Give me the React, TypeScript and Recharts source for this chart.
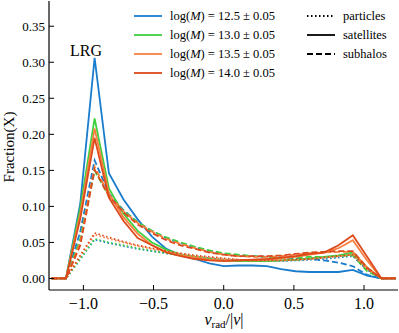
import React from 'react'
import { LineChart, Line, XAxis, YAxis } from 'recharts'

// bin centres of v_rad/|v|
const vrad = [
  -1.226, -1.124, -1.022, -0.92, -0.818, -0.715, -0.613, -0.511, -0.409, -0.307, -0.204, -0.102, 0.0,
  0.102, 0.204, 0.307, 0.409, 0.511, 0.613, 0.715, 0.818, 0.92, 1.022, 1.124, 1.226,
]

const massLabels = ['12.5', '13.0', '13.5', '14.0']
const massColors = ['#1a7ccc', '#3fcf3f', '#f97f3f', '#dc4a1c']

// satellites (solid)
const sat125 = [0, 0, 0.104, 0.306, 0.146, 0.11, 0.082, 0.058, 0.041, 0.032, 0.027, 0.021, 0.017, 0.018, 0.018, 0.017, 0.013, 0.01, 0.009, 0.009, 0.009, 0.012, 0.004, 0, 0]
const sat130 = [0, 0, 0.098, 0.222, 0.125, 0.09, 0.066, 0.05, 0.04, 0.033, 0.03, 0.027, 0.025, 0.024, 0.024, 0.024, 0.025, 0.026, 0.028, 0.03, 0.032, 0.036, 0.015, 0, 0]
const sat135 = [0, 0, 0.09, 0.208, 0.118, 0.085, 0.062, 0.046, 0.037, 0.032, 0.029, 0.026, 0.025, 0.025, 0.025, 0.026, 0.028, 0.03, 0.033, 0.036, 0.042, 0.053, 0.025, 0, 0]
const sat140 = [0, 0, 0.083, 0.195, 0.112, 0.08, 0.056, 0.046, 0.036, 0.031, 0.027, 0.025, 0.024, 0.025, 0.026, 0.027, 0.029, 0.031, 0.034, 0.036, 0.046, 0.06, 0.03, 0, 0]

// subhalos (dashed)
const sub125 = [0, 0, 0.065, 0.164, 0.118, 0.095, 0.078, 0.066, 0.056, 0.049, 0.043, 0.038, 0.034, 0.032, 0.031, 0.03, 0.029, 0.028, 0.027, 0.025, 0.022, 0.017, 0.005, 0, 0]
const sub130 = [0, 0, 0.055, 0.15, 0.114, 0.094, 0.078, 0.066, 0.057, 0.05, 0.044, 0.039, 0.035, 0.033, 0.031, 0.03, 0.029, 0.029, 0.03, 0.03, 0.031, 0.032, 0.01, 0, 0]
const sub135 = [0, 0, 0.05, 0.155, 0.116, 0.093, 0.077, 0.065, 0.055, 0.048, 0.042, 0.037, 0.033, 0.031, 0.03, 0.03, 0.031, 0.033, 0.035, 0.036, 0.037, 0.037, 0.015, 0, 0]
const sub140 = [0, 0, 0.046, 0.151, 0.114, 0.092, 0.075, 0.063, 0.053, 0.046, 0.041, 0.036, 0.033, 0.031, 0.031, 0.031, 0.032, 0.034, 0.036, 0.037, 0.038, 0.038, 0.015, 0, 0]

// particles (dotted)
const par125 = [0, 0, 0.027, 0.054, 0.049, 0.045, 0.041, 0.038, 0.035, 0.032, 0.03, 0.028, 0.026, 0.025, 0.024, 0.024, 0.024, 0.025, 0.026, 0.027, 0.029, 0.031, 0.012, 0, 0]
const par130 = [0, 0, 0.027, 0.055, 0.05, 0.046, 0.042, 0.038, 0.035, 0.032, 0.03, 0.028, 0.026, 0.025, 0.024, 0.024, 0.025, 0.026, 0.027, 0.029, 0.031, 0.033, 0.013, 0, 0]
const par135 = [0, 0, 0.031, 0.061, 0.055, 0.05, 0.045, 0.041, 0.037, 0.034, 0.031, 0.029, 0.027, 0.026, 0.025, 0.025, 0.025, 0.026, 0.027, 0.029, 0.031, 0.033, 0.013, 0, 0]
const par140 = [0, 0, 0.032, 0.063, 0.057, 0.051, 0.046, 0.042, 0.038, 0.035, 0.032, 0.03, 0.028, 0.026, 0.025, 0.025, 0.025, 0.026, 0.027, 0.029, 0.031, 0.033, 0.013, 0, 0]

const xTicks = [-1, -0.5, 0, 0.5, 1]
const yTicks = [0, 0.05, 0.1, 0.15, 0.2, 0.25, 0.3, 0.35]

const satellites = [sat125, sat130, sat135, sat140]
const subhalos = [sub125, sub130, sub135, sub140]
const particles = [par125, par130, par135, par140]

const data = vrad.map((x, i) => {
  const row: Record<string, number> = { x }
  massLabels.forEach((_, m) => {
    row[`par${m}`] = particles[m][i]
    row[`sat${m}`] = satellites[m][i]
    row[`sub${m}`] = subhalos[m][i]
  })
  return row
})

const serif = 'Liberation Serif'
const fmtX = (v: number) => v.toFixed(1).replace('-', '\u2212')
const fmtY = (v: number) => v.toFixed(2)

const styles = [
  { key: 'par', dash: '1.5 2.5', label: 'particles' },
  { key: 'sat', dash: undefined, label: 'satellites' },
  { key: 'sub', dash: '6 3', label: 'subhalos' },
]

export default function App() {
  return (
    <div style={{ position: 'absolute', left: 0, top: 0, width: 399, height: 333, background: '#fff', fontFamily: serif }}>
      <LineChart width={399} height={333} data={data} margin={{ top: 1, right: 1, left: 0, bottom: 0 }} style={{ fontFamily: serif }}>
        <XAxis
          dataKey="x"
          type="number"
          domain={[-1.245, 1.242]}
          ticks={xTicks}
          tickFormatter={fmtX}
          allowDataOverflow
          height={43}
          tickSize={-5}
          tickMargin={13}
          tick={{ fontSize: 16, fill: '#000', fontFamily: serif }}
          axisLine={{ stroke: '#000', strokeWidth: 1.2 }}
          tickLine={{ stroke: '#000', strokeWidth: 1 }}
        />
        <XAxis
          xAxisId="top"
          orientation="top"
          dataKey="x"
          type="number"
          domain={[-1.245, 1.242]}
          ticks={xTicks}
          allowDataOverflow
          height={0}
          tickSize={-5}
          tick={false}
          axisLine={{ stroke: '#000', strokeWidth: 1.2 }}
          tickLine={{ stroke: '#000', strokeWidth: 1 }}
        />
        <YAxis
          type="number"
          domain={[-0.016, 0.385]}
          ticks={yTicks}
          tickFormatter={fmtY}
          allowDataOverflow
          width={49}
          tickSize={-5}
          tickMargin={9}
          tick={{ fontSize: 13, fill: '#000', fontFamily: serif }}
          axisLine={{ stroke: '#000', strokeWidth: 1.2 }}
          tickLine={{ stroke: '#000', strokeWidth: 1 }}
        />
        <YAxis
          yAxisId="right"
          orientation="right"
          type="number"
          domain={[-0.016, 0.385]}
          ticks={yTicks}
          allowDataOverflow
          width={0}
          tickSize={-5}
          tick={false}
          axisLine={{ stroke: '#000', strokeWidth: 1.2 }}
          tickLine={{ stroke: '#000', strokeWidth: 1 }}
        />
        {massLabels.map((_, m) =>
          styles.map((s) => (
            <Line
              key={`${s.key}${m}`}
              dataKey={`${s.key}${m}`}
              type="linear"
              stroke={massColors[m]}
              strokeWidth={1.8}
              strokeDasharray={s.dash}
              dot={false}
              activeDot={false}
              isAnimationActive={false}
            />
          ))
        )}
      </LineChart>

      {/* mass legend */}
      {massLabels.map((lab, m) => (
        <div key={lab} style={{ position: 'absolute', left: 134, top: 16 + m * 19.1 - 9, height: 18, display: 'flex', alignItems: 'center', fontSize: 12.5 }}>
          <svg width={28} height={4} style={{ marginRight: 8 }}>
            <line x1={0} y1={2} x2={28} y2={2} stroke={massColors[m]} strokeWidth={1.8} />
          </svg>
          <span style={{ whiteSpace: 'nowrap' }}>
            log(<i>M</i>) = {lab} ± 0.05
          </span>
        </div>
      ))}

      {/* line style legend */}
      {styles.map((s, i) => (
        <div key={s.key} style={{ position: 'absolute', left: 307, top: 16 + i * 19.1 - 9, height: 18, display: 'flex', alignItems: 'center', fontSize: 12.5 }}>
          <svg width={28} height={4} style={{ marginRight: 8 }}>
            <line x1={0} y1={2} x2={28} y2={2} stroke="#000" strokeWidth={1.8} strokeDasharray={s.dash} />
          </svg>
          <span>{s.label}</span>
        </div>
      ))}

      <div style={{ position: 'absolute', left: 70, top: 42, fontSize: 16 }}>LRG</div>

      <div
        style={{
          position: 'absolute',
          left: 9,
          top: 147,
          transform: 'translate(-50%, -50%) rotate(-90deg)',
          fontSize: 15,
          whiteSpace: 'nowrap',
        }}
      >
        Fraction(X)
      </div>

      <div style={{ position: 'absolute', left: 224, top: 320, transform: 'translate(-50%, -50%)', fontSize: 16, whiteSpace: 'nowrap', lineHeight: 1 }}>
        <i>v</i>
        <span style={{ fontSize: 11, position: 'relative', top: 3 }}>rad</span>/|<i>v</i>|
      </div>
    </div>
  )
}
